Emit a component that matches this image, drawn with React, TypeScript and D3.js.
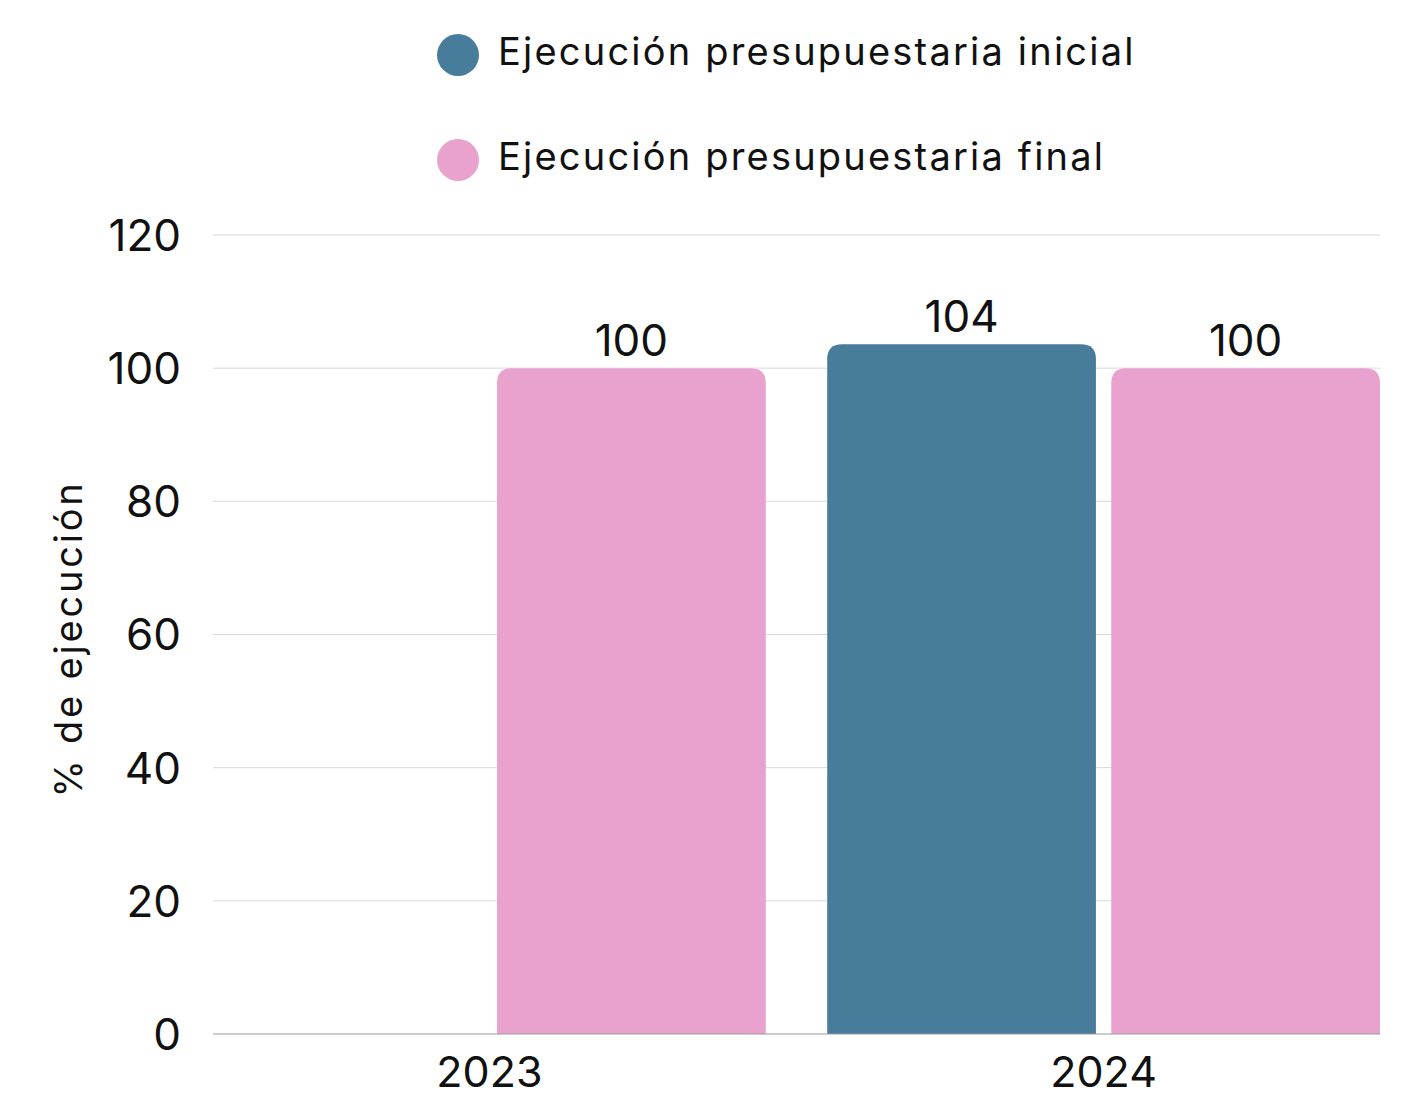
import { useEffect, useRef } from 'react'
import * as d3 from 'd3'

const years = ['2023', '2024']
const series = ['Ejecución presupuestaria inicial', 'Ejecución presupuestaria final']
const inicialValues: (number | null)[] = [null, 103.6]
const finalValues: (number | null)[] = [100, 100]
const yTicks = [0, 20, 40, 60, 80, 100, 120]
const colors = ['#477c9b', '#e8a2cd']

const W = 1403
const H = 1097
const FONT = 'Inter, "Noto Sans", sans-serif'

function topRoundedRect(x: number, y: number, w: number, h: number, r: number) {
  const rr = Math.min(r, w / 2, h)
  return `M${x},${y + h}V${y + rr}Q${x},${y} ${x + rr},${y}H${x + w - rr}Q${x + w},${y} ${x + w},${y + rr}V${y + h}Z`
}

export default function App() {
  const svgRef = useRef<SVGSVGElement>(null)

  useEffect(() => {
    if (!svgRef.current) return
    const svg = d3.select(svgRef.current)
    svg.selectAll('*').remove()

    const margin = { top: 235, right: 23, bottom: 63, left: 213 }
    const innerW = W - margin.left - margin.right
    const innerH = H - margin.top - margin.bottom

    const x0 = d3.scaleBand<string>().domain(years).range([0, innerW]).paddingInner(0.1).paddingOuter(0)
    const x1 = d3.scaleBand<string>().domain(series).range([0, x0.bandwidth()]).paddingInner(0.054)
    const y = d3.scaleLinear().domain([0, 120]).range([innerH, 0])

    const g = svg.append('g').attr('transform', `translate(${margin.left},${margin.top})`)

    // grid
    g.selectAll('line.grid')
      .data(yTicks.filter((t) => t !== 0))
      .enter()
      .append('line')
      .attr('x1', 0)
      .attr('x2', innerW)
      .attr('y1', (d) => y(d))
      .attr('y2', (d) => y(d))
      .attr('stroke', '#d9d9d9')
      .attr('stroke-width', 1)

    // y tick labels
    g.selectAll('text.ytick')
      .data(yTicks)
      .enter()
      .append('text')
      .attr('x', -32)
      .attr('y', (d) => y(d))
      .attr('dy', '0.36em')
      .attr('text-anchor', 'end')
      .attr('font-family', FONT)
      .attr('font-size', 44)
      .attr('fill', '#111')
      .text((d) => d)

    // bars
    const rows = years.map((yr, i) => ({ year: yr, vals: [inicialValues[i], finalValues[i]] }))
    rows.forEach((row) => {
      row.vals.forEach((v, si) => {
        if (v === null) return
        const bx = (x0(row.year) ?? 0) + (x1(series[si]) ?? 0)
        const bw = x1.bandwidth()
        g.append('path')
          .attr('d', topRoundedRect(bx, y(v), bw, innerH - y(v), 15))
          .attr('fill', colors[si])
        g.append('text')
          .attr('x', bx + bw / 2)
          .attr('y', y(v) - 12)
          .attr('text-anchor', 'middle')
          .attr('font-family', FONT)
          .attr('font-size', 44)
          .attr('fill', '#111')
          .text(d3.format('.0f')(v))
      })
    })

    // baseline
    g.append('line')
      .attr('x1', 0)
      .attr('x2', innerW)
      .attr('y1', y(0))
      .attr('y2', y(0))
      .attr('stroke', '#999')
      .attr('stroke-width', 1.2)

    // x labels
    g.selectAll('text.xtick')
      .data(years)
      .enter()
      .append('text')
      .attr('x', (d) => (x0(d) ?? 0) + x0.bandwidth() / 2)
      .attr('y', innerH + 53)
      .attr('text-anchor', 'middle')
      .attr('font-family', FONT)
      .attr('font-size', 43)
      .attr('fill', '#111')
      .text((d) => d)

    // y title
    svg.append('text')
      .attr('transform', `translate(82,639) rotate(-90)`)
      .attr('text-anchor', 'middle')
      .attr('font-family', FONT)
      .attr('font-size', 38)
      .attr('letter-spacing', 2.8)
      .attr('fill', '#111')
      .text('% de ejecución')

    // legend
    const legend = svg.append('g')
    series.forEach((s, i) => {
      const cy = 55 + i * 105
      legend.append('circle').attr('cx', 458).attr('cy', cy).attr('r', 21).attr('fill', colors[i])
      legend.append('text')
        .attr('x', 498)
        .attr('y', cy + 10)
        .attr('font-family', FONT)
        .attr('font-size', 38)
        .attr('letter-spacing', 2.2)
        .attr('fill', '#111')
        .text(s)
    })
  }, [])

  return (
    <div style={{ position: 'absolute', left: 0, top: 0, background: '#fff' }}>
      <svg ref={svgRef} width={W} height={H} />
    </div>
  )
}
